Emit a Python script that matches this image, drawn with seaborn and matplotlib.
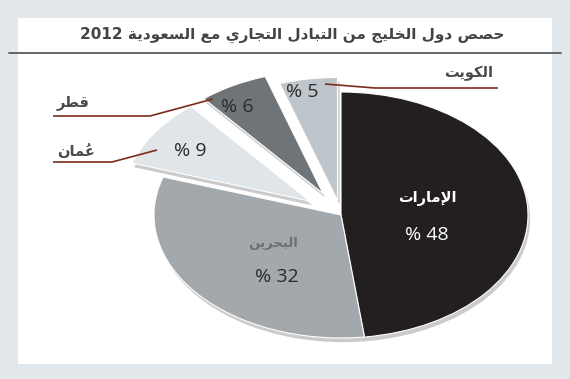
import re
import unicodedata

import matplotlib.pyplot as plt
import matplotlib.patheffects as pe
from matplotlib.lines import Line2D
from matplotlib.patches import Rectangle
import seaborn as sns

# data
TITLE = "حصص دول الخليج من التبادل التجاري مع السعودية 2012"
COUNTRIES = ["الإمارات", "البحرين", "عُمان", "قطر", "الكويت"]
SHARES = [48, 32, 9, 6, 5]
COLORS = ["#231f20", "#a3a8ac", "#dfe5e9", "#6f7478", "#bfc6cb"]
EXPLODE = [0, 0, 0.2, 0.2, 0.12]

# arabic shaping (matplotlib has no complex text layout)
FORMS = {
    'ء': (0xFE80, 1), 'آ': (0xFE81, 2), 'أ': (0xFE83, 2), 'ؤ': (0xFE85, 2), 'إ': (0xFE87, 2),
    'ئ': (0xFE89, 4), 'ا': (0xFE8D, 2), 'ب': (0xFE8F, 4), 'ة': (0xFE93, 2), 'ت': (0xFE95, 4),
    'ث': (0xFE99, 4), 'ج': (0xFE9D, 4), 'ح': (0xFEA1, 4), 'خ': (0xFEA5, 4), 'د': (0xFEA9, 2),
    'ذ': (0xFEAB, 2), 'ر': (0xFEAD, 2), 'ز': (0xFEAF, 2), 'س': (0xFEB1, 4), 'ش': (0xFEB5, 4),
    'ص': (0xFEB9, 4), 'ض': (0xFEBD, 4), 'ط': (0xFEC1, 4), 'ظ': (0xFEC5, 4), 'ع': (0xFEC9, 4),
    'غ': (0xFECD, 4), 'ف': (0xFED1, 4), 'ق': (0xFED5, 4), 'ك': (0xFED9, 4), 'ل': (0xFEDD, 4),
    'م': (0xFEE1, 4), 'ن': (0xFEE5, 4), 'ه': (0xFEE9, 4), 'و': (0xFEED, 2), 'ى': (0xFEEF, 2),
    'ي': (0xFEF1, 4),
}
LAM_ALEF = {'آ': 0xFEF5, 'أ': 0xFEF7, 'إ': 0xFEF9, 'ا': 0xFEFB}


def kind(key):
    if key is None:
        return None
    if len(key) == 2:
        return 2
    if key in FORMS:
        return FORMS[key][1]
    return None


def shape(text):
    clusters = []  # [key, marks]
    for ch in text:
        if unicodedata.combining(ch) and clusters:
            clusters[-1][1] += ch
        elif ch in LAM_ALEF and clusters and clusters[-1][0] == 'ل' and not clusters[-1][1]:
            clusters[-1][0] = 'ل' + ch
        else:
            clusters.append([ch, ""])
    out = []
    for i, (key, marks) in enumerate(clusters):
        k = kind(key)
        if k is None:
            out.append(key + marks)
            continue
        prev_k = kind(clusters[i - 1][0]) if i > 0 else None
        next_k = kind(clusters[i + 1][0]) if i + 1 < len(clusters) else None
        j_prev = k in (2, 4) and prev_k == 4
        j_next = k == 4 and next_k in (2, 4)
        if len(key) == 2:
            base = LAM_ALEF[key[1]]
        else:
            base = FORMS[key][0]
        if j_prev and j_next:
            idx = 3
        elif j_prev:
            idx = 1
        elif j_next:
            idx = 2
        else:
            idx = 0
        # mark goes first so it sits over its letter once the run is reversed
        out.append(marks + chr(base + idx))
    s = "".join(out[::-1])
    return re.sub(r'[0-9A-Za-z.]+', lambda m: m.group(0)[::-1], s)


sns.set_theme(style="white")
plt.rcParams['font.family'] = ['Open Sans', 'DejaVu Sans']

W, H = 570, 379
fig = plt.figure(figsize=(W / 100, H / 100), dpi=100)
fig.patch.set_facecolor("#e1e7ea")

# white panel + title rule
fig.patches.append(Rectangle((18 / W, 1 - 364 / H), (552 - 18) / W, (364 - 18) / H,
                             transform=fig.transFigure, facecolor="white", edgecolor="none", zorder=-2))
fig.lines.append(Line2D([9 / W, 561 / W], [1 - 53 / H, 1 - 53 / H], transform=fig.transFigure,
                        color="#5a5a5a", lw=1.3))
fig.text(504 / W, 1 - 35 / H, shape(TITLE), ha="right", va="center", fontsize=11,
         fontweight="bold", color="#444444", family=["DejaVu Sans"])

# pie geometry in pixels
CX, CY, RX, RY = 341, 215, 187, 123


def px(x, y):
    return (x - CX) / RX, (CY - y) / RY


ax = fig.add_axes([0, 0, 1, 1])
wedges, _ = ax.pie(SHARES, colors=sns.color_palette(COLORS), explode=EXPLODE,
                   startangle=90, counterclock=False,
                   wedgeprops=dict(edgecolor="white", linewidth=0.8))
for w in wedges:
    w.set_path_effects([pe.SimplePatchShadow(offset=(1.5, -3), shadow_rgbFace="#555555", alpha=0.3),
                        pe.Normal()])
ax.set_aspect("auto")
ax.set_xlim(px(0, 0)[0], px(W, 0)[0])
ax.set_ylim(px(0, H)[1], px(0, 0)[1])
ax.patch.set_visible(False)
ax.axis("off")

# in-slice labels
name_pos = {0: (427, 199, "white"), 1: (273, 243, "#6b6f72")}
pct_pos = [(427, 235, "white"), (277, 277, "#2b2b2b"), (190, 151, "#2b2b2b"),
           (237, 107, "#2b2b2b"), (302, 92, "#2b2b2b")]
for i, (x, y, c) in name_pos.items():
    ax.text(*px(x, y), shape(COUNTRIES[i]), ha="center", va="center", color=c,
            fontsize=10.5 if i == 0 else 9.5, fontweight="bold", family=["DejaVu Sans"])
for v, (x, y, c) in zip(SHARES, pct_pos):
    ax.text(*px(x, y), f"% {v}", ha="center", va="center", color=c, fontsize=14)

# outside labels with leader lines
outside = {
    3: ((57, 103, "left"), [(53, 116), (150, 116), (213, 99)]),
    2: ((57, 152, "left"), [(53, 162), (112, 162), (157, 150)]),
    4: ((493, 73, "right"), [(498, 88), (375, 88), (325, 84)]),
}
for i, ((x, y, ha), pts) in outside.items():
    ax.text(*px(x, y), shape(COUNTRIES[i]), ha=ha, va="center", color="#4a4a4a",
            fontsize=10.5, fontweight="bold", family=["DejaVu Sans"])
    xs, ys = zip(*[px(a, b) for a, b in pts])
    ax.plot(xs, ys, color="#7d2c1c", lw=1.2, solid_capstyle="butt")

fig.savefig("out.png", dpi=100, facecolor=fig.get_facecolor())
